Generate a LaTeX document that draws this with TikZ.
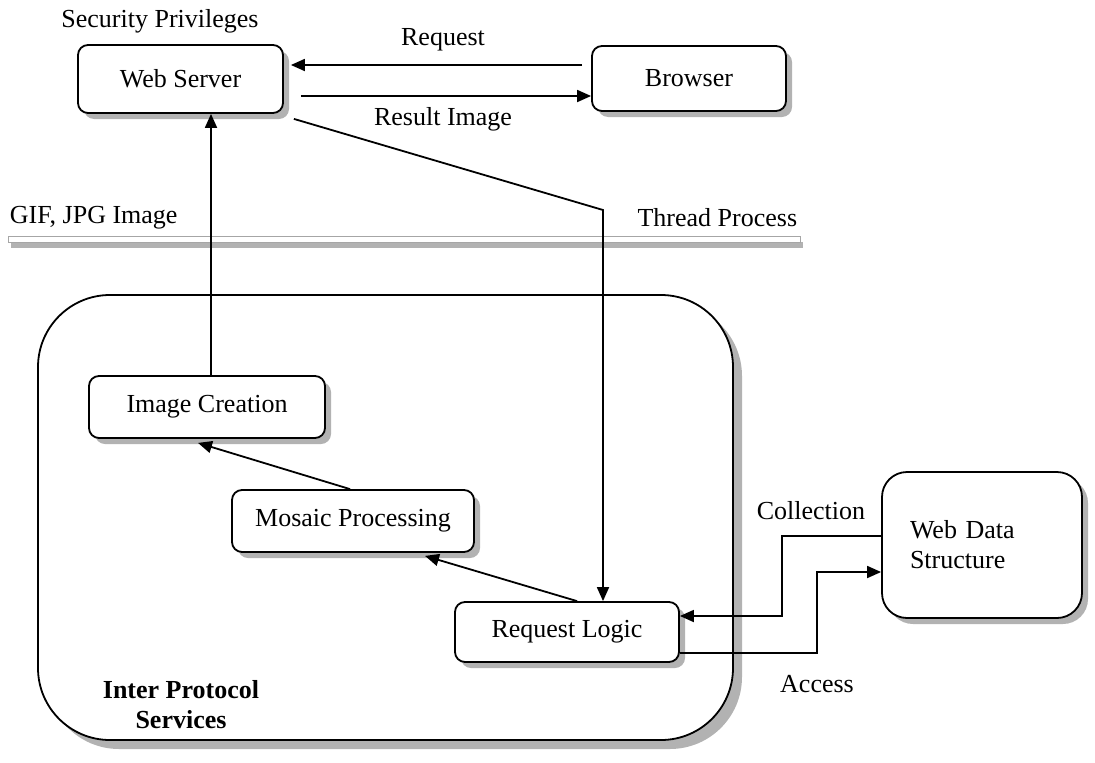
\documentclass[tikz,border=0pt]{standalone}
\usepackage{fontspec}
\setmainfont{Liberation Serif}
\usetikzlibrary{shadows,arrows.meta}
\begin{document}
\begin{tikzpicture}[x=1pt,y=-1pt, font=\fontsize{26}{30}\selectfont, line width=1.8pt,
  shad/.style={drop shadow={shadow xshift=6pt,shadow yshift=-6pt,fill=gray!60,opacity=1}},
  box/.style={draw,rounded corners=10pt,fill=white,shad,inner sep=0pt},
  arr/.style={-{Triangle[length=14pt,width=12pt]}},
  lbl/.style={inner sep=0pt}]
\useasboundingbox (0,0) rectangle (1095,763);

% separator bar
\node[draw=gray!70, line width=0.6pt, fill=white, minimum width=792pt, minimum height=6pt, inner sep=0pt,
  drop shadow={shadow xshift=3pt, shadow yshift=-6pt, fill=gray!60, opacity=1}] (bar) at (404,239) {};

% big container
\node[box, rounded corners=72pt, minimum width=695pt, minimum height=445pt,
  drop shadow={shadow xshift=9pt,shadow yshift=-9pt,fill=gray!60,opacity=1}] (ips) at (385.5,517.5) {};

% boxes
\node[box, minimum width=205pt, minimum height=68pt] (ws) at (180.5,79) {Web Server};
\node[box, minimum width=194pt, minimum height=65pt] (br) at (689,78.5) {Browser};
\node[box, minimum width=236pt, minimum height=62pt] (ic) at (207,407) {Image Creation};
\node[box, minimum width=242pt, minimum height=62pt] (mp) at (353,521) {Mosaic Processing};
\node[box, minimum width=224pt, minimum height=60pt] (rl) at (567,632) {Request Logic};
\node[box, rounded corners=25pt, minimum height=146pt, text width=144pt, inner xsep=28pt, align=left] (wd) at (982,545) {Web Data\\Structure};

% labels
\node[lbl] (secp) at (160,21) {Security Privileges};
\node[lbl] (req) at (443,40) {Request};
\node[lbl] (res) at (443,119) {Result Image};
\node[lbl, anchor=west] (gif) at (9,218) {GIF, JPG Image};
\node[lbl, anchor=east] (thr) at (798,218) {Thread Process};
\node[lbl] (col) at (811,511) {Collection};
\node[lbl] (acc) at (817,684) {Access};
\node[lbl, font=\fontsize{26}{30}\selectfont\bfseries, align=center] (ipl) at (181,705) {Inter Protocol\\Services};

% connectors
\draw[arr] ([xshift=-9pt,yshift=13.5pt]br.west) -- ([xshift=7pt,yshift=14pt]ws.east);
\draw[arr] ([xshift=17pt,yshift=-17pt]ws.east) -- ([yshift=-17.5pt]br.west);
\coordinate (tp) at (603,210);
\draw[arr] ([xshift=10pt,yshift=-5pt]ws.south east) -- (tp) -- (tp |- rl.north);
\draw[arr] ([xshift=4pt]ic.north) -- ([xshift=4pt]ic.north |- ws.south);
\draw[arr] ([xshift=-3pt]mp.north) -- ([xshift=-9pt,yshift=-4pt]ic.south);
\draw[arr] ([xshift=10pt]rl.north) -- ([xshift=72pt,yshift=-3pt]mp.south);
\coordinate (c1) at (782,536);
\coordinate (c2) at (782,616);
\draw[arr] (c1 -| wd.west) -- (c1) -- (c2) -- (c2 -| rl.east);
\coordinate (a1) at (817,653);
\coordinate (a2) at (817,572);
\draw[arr] (a1 -| rl.east) -- (a1) -- (a2) -- (a2 -| wd.west);
\end{tikzpicture}
\end{document}
